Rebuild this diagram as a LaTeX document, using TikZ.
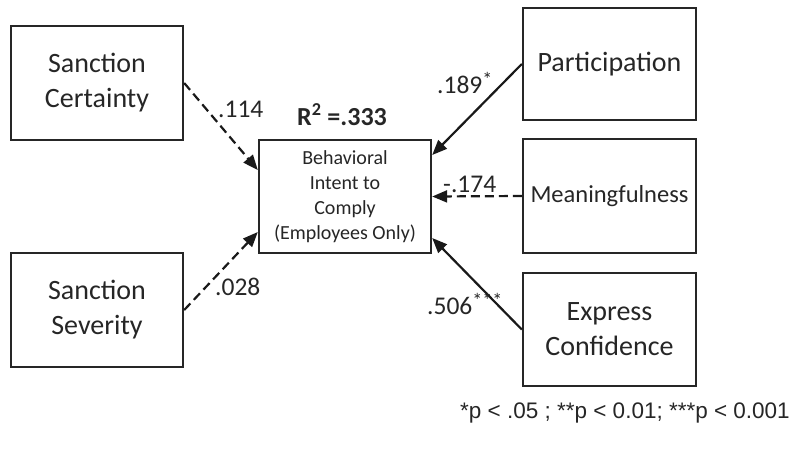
\documentclass[tikz,border=0pt]{standalone}
\usepackage{fontspec}
\setmainfont{Carlito}
\newfontfamily\arialfont{Liberation Sans}
\usetikzlibrary{arrows.meta}
\newcommand{\myast}[1]{\raisebox{7pt}{\fontsize{20}{20}\selectfont #1}}
\begin{document}
\begin{tikzpicture}[x=1pt,y=-1pt,
  box/.style={draw=black!85,line width=2.4pt,rectangle,inner sep=1pt,align=center,
    font=\fontsize{28}{35}\selectfont,text=black!85},
  path/.style={draw=black!90,line width=2.2pt,-{Triangle[length=15pt,width=12pt]}},
  dpath/.style={path,dash pattern=on 9pt off 5pt},
  coef/.style={font=\fontsize{25.5}{30}\selectfont,text=black!85,inner sep=0pt}]
\useasboundingbox (0,0) rectangle (801,458);
\node[box,minimum width=172pt,minimum height=114pt] (sc) at (97,83) {Sanction\\Certainty};
\node[box,minimum width=172pt,minimum height=114pt] (sv) at (97,310) {Sanction\\Severity};
\node[box,minimum width=173pt,minimum height=112pt] (pa) at (609.5,64) {Participation};
\node[box,minimum width=173pt,minimum height=114pt,font=\fontsize{24.5}{30}\selectfont] (me) at (609.5,196) {Meaningfulness};
\node[box,minimum width=173pt,minimum height=113pt] (ec) at (609.5,329.5) {Express\\Confidence};
\node[box,minimum width=172pt,minimum height=113pt,font=\fontsize{20}{25}\selectfont] (bi) at (345,196.5)
  {Behavioral\\Intent to\\Comply\\(Employees Only)};
\draw[dpath] (sc.east) -- ([yshift=26.5pt]bi.west);
\draw[dpath] (sv.east) -- ([yshift=-35.5pt]bi.west);
\draw[path] (pa.west) -- ([yshift=41.5pt]bi.east);
\draw[dpath] (me.west) -- (bi.east);
\draw[path] (ec.west) -- ([yshift=-41.5pt]bi.east);
\node[coef,anchor=base west] (l1) at (218,117) {.114};
\node[coef,anchor=base west,font=\bfseries\fontsize{26}{30}\selectfont] (r2) at (297,125) {R\textsuperscript{2} =.333};
\node[coef,anchor=base west] (l2) at (215,295) {.028};
\node[coef,anchor=base west] (l3) at (437,93) {.189\myast{*}};
\node[coef,anchor=base west] (l4) at (443,192) {-.174};
\node[coef,anchor=base west] (l5) at (427,314) {.506\myast{***}};
\node[anchor=base east,inner sep=0pt,font=\arialfont\fontsize{22.5}{27}\selectfont,text=black!85] (fn) at (790,418)
  {*p < .05 ; **p < 0.01; ***p < 0.001};
\end{tikzpicture}
\end{document}
